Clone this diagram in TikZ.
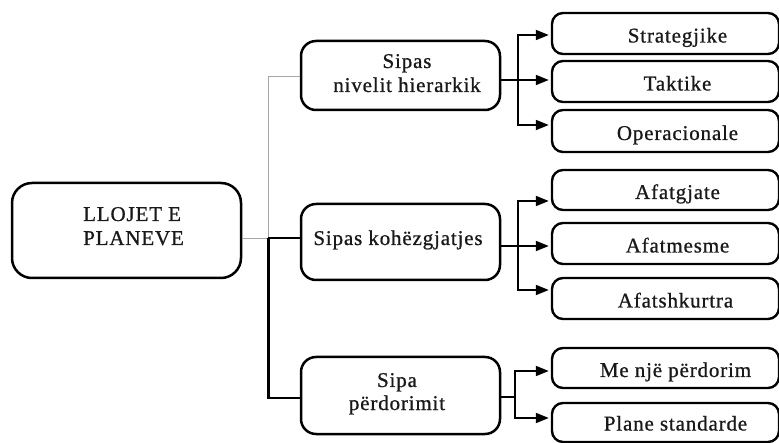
\documentclass[tikz,border=0pt]{standalone}
\usepackage{fontspec}
\setmainfont{Liberation Serif}[LetterSpace=4, FakeBold=0.8]
\usetikzlibrary{arrows.meta}

\begin{document}
\begin{tikzpicture}[x=1pt,y=-1pt,
  frame/.style={draw=black, line width=2.5pt, rounded corners=15pt,
                inner sep=0pt, fill=white},
  leaf/.style={draw=black, line width=2.4pt, rounded corners=11pt,
               inner sep=0pt, minimum width=227pt},
  txt/.style={font=\fontsize{21}{24}\selectfont, text=black!90,
              inner sep=0pt, anchor=base},
  stem/.style={draw=black, line width=2.5pt},
  thin/.style={draw=black!35, line width=0.9pt},
  branch/.style={draw=black, line width=1.8pt,
                 -{Triangle[length=13pt,width=10pt]}},
  fork/.style={draw=black, line width=1.8pt}]

\clip (0,0) rectangle (779,443);
\fill[white] (0,0) rectangle (779,443);

% root and the three groups
\node[frame, rounded corners=20pt, minimum width=229pt, minimum height=95pt]
  (root) at (126.5,230.5) {};
\node[frame, minimum width=199pt, minimum height=69pt] (g1) at (400.5,75.5) {};
\node[frame, minimum width=199pt, minimum height=76pt] (g2) at (400.5,242) {};
\node[frame, minimum width=199pt, minimum height=77pt] (g3) at (400.5,395.5) {};

% leaf boxes, running off the right edge
\node[leaf, minimum height=41pt] (s1) at (665.5,33.5) {};
\node[leaf, minimum height=41pt] (s2) at (665.5,81.5) {};
\node[leaf, minimum height=42pt] (s3) at (665.5,131) {};
\node[leaf, minimum height=40pt] (k1) at (665.5,190) {};
\node[leaf, minimum height=41pt] (k2) at (665.5,243.5) {};
\node[leaf, minimum height=41pt] (k3) at (665.5,298.5) {};
\node[leaf, minimum height=40pt] (p1) at (665.5,368) {};
\node[leaf, minimum height=39pt] (p2) at (665.5,422.5) {};

% labels
\node[txt, anchor=base west] at (83,221) {LLOJET E};
\node[txt, anchor=base west] at (83,245) {PLANEVE};
\node[txt] at (407,68) {Sipas};
\node[txt] at (407,92) {nivelit hierarkik};
\node[txt] at (398,245) {Sipas kohëzgjatjes};
\node[txt] at (397,387) {Sipa};
\node[txt] at (397,410) {përdorimit};

\node[txt] at ([xshift=12pt,yshift=-9pt]s1.center) {Strategjike};
\node[txt] at ([xshift=12pt,yshift=-9pt]s2.center) {Taktike};
\node[txt] at ([xshift=12pt,yshift=-9pt]s3.center) {Operacionale};
\node[txt] at ([xshift=12pt,yshift=-9pt]k1.center) {Afatgjate};
\node[txt] at ([xshift=12pt,yshift=-9pt]k2.center) {Afatmesme};
\node[txt] at ([xshift=10pt,yshift=-9pt]k3.center) {Afatshkurtra};
\node[txt] at ([xshift=10pt,yshift=-9pt]p1.center) {Me një përdorim};
\node[txt] at ([xshift=10pt,yshift=-8pt]p2.center) {Plane standarde};

% trunk from the root to the groups
\coordinate (hub) at ([xshift=26pt,yshift=-7.5pt]root.east);
\draw[thin] ([yshift=-7.5pt]root.east) -- (hub);
\draw[thin] (hub) |- ([yshift=-0.5pt]g1.west);
\draw[stem] (hub) -- ([yshift=4pt]g2.west);
\draw[stem] (hub) |- ([yshift=-2.5pt]g3.west);

% first group
\coordinate (f1) at ([xshift=17pt,yshift=-4.5pt]g1.east);
\draw[fork] ([yshift=-4.5pt]g1.east) -- (f1);
\draw[branch] (f1) |- ([xshift=-2pt,yshift=-1.5pt]s1.west);
\draw[branch] (f1) -- ([xshift=-2pt]f1 -| s2.west);
\draw[branch] (f1) |- ([xshift=-2pt,yshift=6pt]s3.west);

% second group
\coordinate (f2) at ([xshift=17pt,yshift=-4pt]g2.east);
\draw[fork] ([yshift=-4pt]g2.east) -- (f2);
\draw[branch] (f2) |- ([xshift=-2pt,yshift=-11pt]k1.west);
\draw[branch] (f2) -- ([xshift=-2pt]f2 -| k2.west);
\draw[branch] (f2) |- ([xshift=-2pt,yshift=8.5pt]k3.west);

% third group
\coordinate (f3) at ([xshift=14pt,yshift=-1.5pt]g3.east);
\draw[fork] ([yshift=-1.5pt]g3.east) -- (f3);
\draw[branch] (f3) |- ([xshift=-2pt,yshift=-3pt]p1.west);
\draw[branch] (f3) |- ([xshift=-2pt,yshift=4.5pt]p2.west);
\end{tikzpicture}
\end{document}
